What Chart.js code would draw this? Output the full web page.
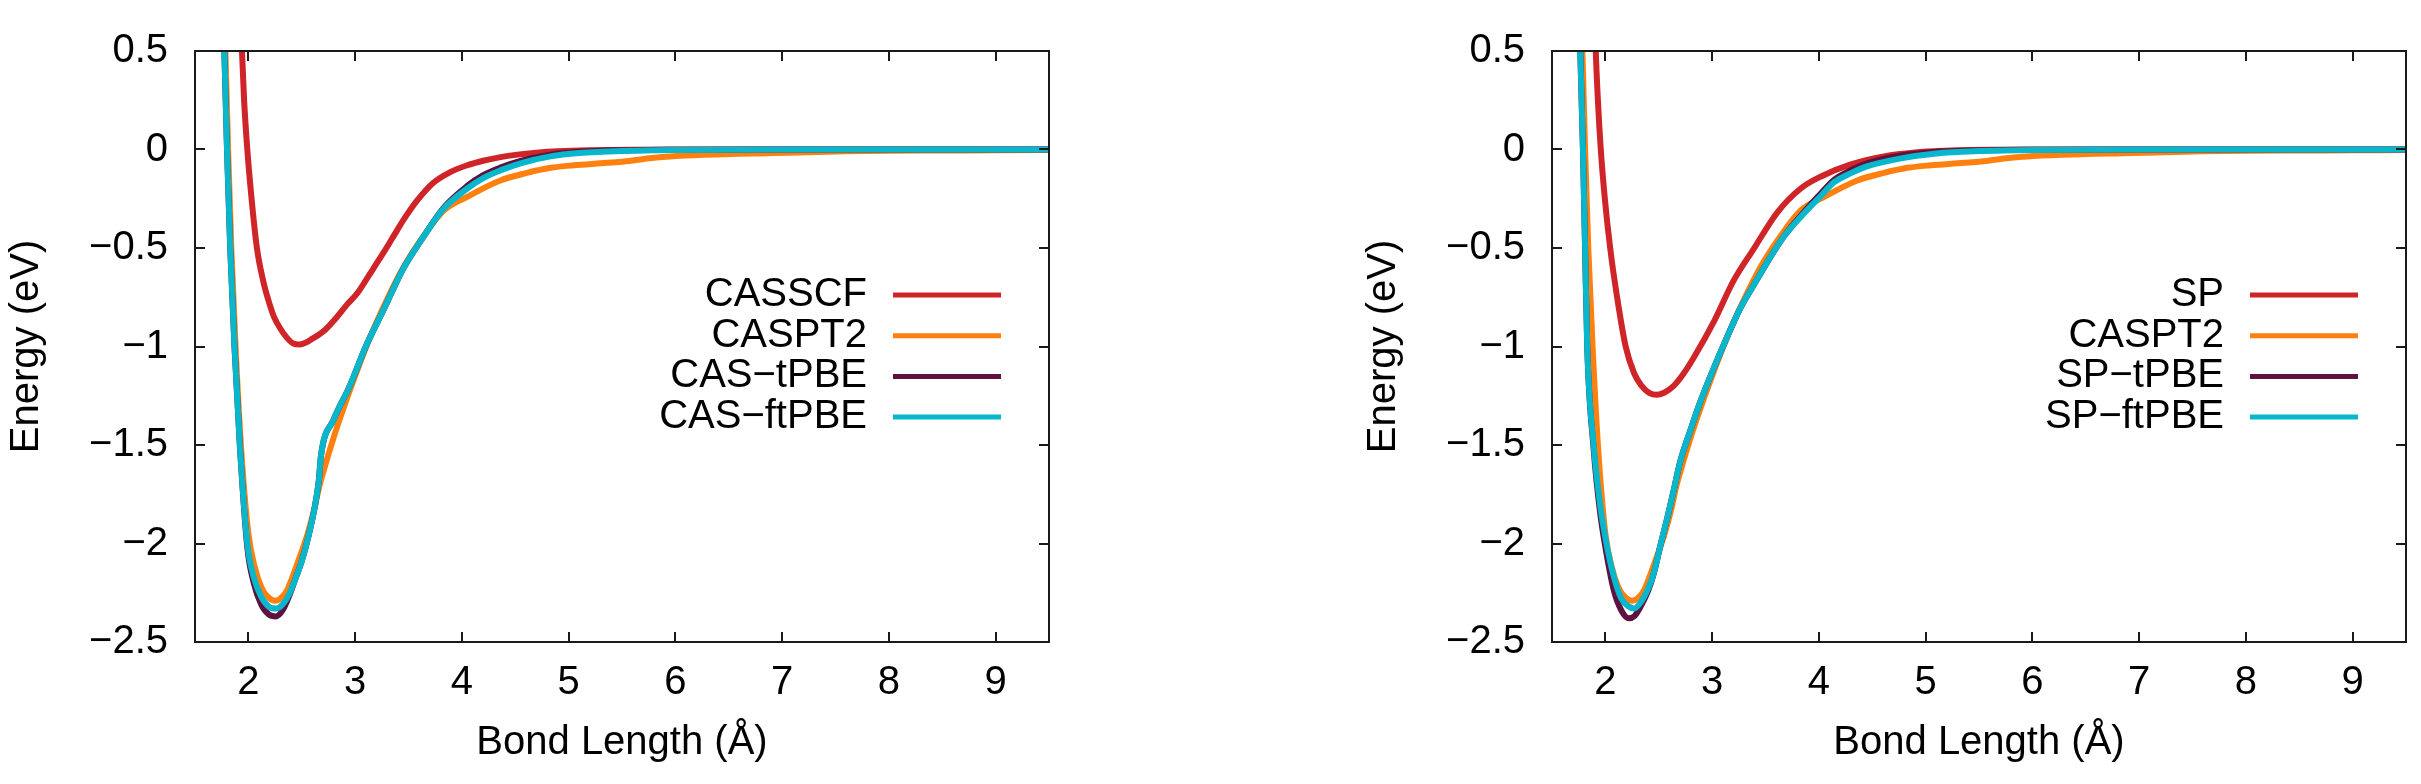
<!DOCTYPE html>
<html>
<head>
<meta charset="utf-8">
<script src="https://cdn.jsdelivr.net/npm/chart.js@4.4.1/dist/chart.umd.min.js"></script>
<style>
  body { margin: 0; background: #fff; }
  .panel { position: absolute; top: 0; }
</style>
</head>
<body>
<canvas id="leftChart" class="panel" style="left:0px" width="1210" height="784"></canvas>
<canvas id="rightChart" class="panel" style="left:1210px" width="1211" height="784"></canvas>
<script>
const FONT = "'Liberation Sans', Arial, Helvetica, sans-serif";

// axis ticks
const xTicks = [2, 3, 4, 5, 6, 7, 8, 9];
const yTicks = [0.5, 0, -0.5, -1, -1.5, -2, -2.5];

// legend names
const leftNames = ['CASSCF', 'CASPT2', 'CAS\u2212tPBE', 'CAS\u2212ftPBE'];
const rightNames = ['SP', 'CASPT2', 'SP\u2212tPBE', 'SP\u2212ftPBE'];

// bond length (Å) / energy (eV)
const casscfR = [1.91, 1.94, 1.96, 1.99, 2.03, 2.08, 2.14, 2.19, 2.24, 2.30, 2.36, 2.42, 2.48, 2.54, 2.60, 2.66, 2.72, 2.83, 2.92, 3.02, 3.14, 3.27, 3.36, 3.45, 3.58, 3.73, 3.89, 4.05, 4.20, 4.35, 4.52, 4.70, 4.90, 5.20, 5.60, 6.00, 7.00, 8.00, 9.00, 9.50];
const casscfE = [1.00, 0.50, 0.25, 0.00, -0.25, -0.50, -0.67, -0.77, -0.85, -0.91, -0.955, -0.985, -0.99, -0.98, -0.96, -0.94, -0.915, -0.85, -0.79, -0.73, -0.63, -0.52, -0.44, -0.36, -0.26, -0.17, -0.115, -0.08, -0.057, -0.04, -0.026, -0.016, -0.009, -0.004, -0.001, 0, 0, 0, 0, 0];

const caspt2R = [1.74, 1.78, 1.81, 1.84, 1.88, 1.93, 2.00, 2.06, 2.12, 2.18, 2.25, 2.30, 2.36, 2.42, 2.48, 2.55, 2.62, 2.66, 2.70, 2.80, 2.90, 3.00, 3.15, 3.30, 3.45, 3.64, 3.83, 4.05, 4.36, 4.60, 4.83, 5.05, 5.30, 5.50, 5.65, 5.80, 5.95, 6.28, 6.94, 7.60, 8.00, 8.50, 9.00, 9.50];
const caspt2E = [1.30, 0.60, 0.00, -0.50, -1.00, -1.50, -1.95, -2.12, -2.22, -2.27, -2.29, -2.28, -2.24, -2.16, -2.07, -1.96, -1.82, -1.72, -1.64, -1.46, -1.30, -1.15, -0.94, -0.76, -0.60, -0.44, -0.31, -0.24, -0.157, -0.12, -0.093, -0.08, -0.07, -0.062, -0.052, -0.042, -0.035, -0.027, -0.018, -0.009, -0.006, -0.005, -0.004, -0.003];

const casPbeR = [1.73, 1.77, 1.80, 1.83, 1.87, 1.92, 1.99, 2.05, 2.12, 2.19, 2.26, 2.32, 2.38, 2.44, 2.50, 2.56, 2.62, 2.66, 2.68, 2.80, 2.95, 3.10, 3.27, 3.45, 3.64, 3.83, 4.05, 4.20, 4.36, 4.55, 4.83, 5.10, 5.50, 6.00, 7.00, 8.00, 9.00, 9.50];
const casTpbeE = [1.30, 0.60, 0.00, -0.50, -1.00, -1.50, -2.02, -2.20, -2.31, -2.36, -2.37, -2.34, -2.27, -2.18, -2.09, -1.97, -1.82, -1.68, -1.555, -1.37, -1.20, -1.00, -0.81, -0.606, -0.443, -0.295, -0.185, -0.13, -0.092, -0.058, -0.026, -0.012, -0.004, -0.001, 0, 0, 0, 0];
const casFtpbeE = [1.30, 0.60, 0.00, -0.50, -1.00, -1.50, -2.00, -2.17, -2.27, -2.32, -2.33, -2.31, -2.26, -2.18, -2.09, -1.97, -1.82, -1.68, -1.555, -1.37, -1.20, -1.00, -0.81, -0.606, -0.443, -0.30, -0.198, -0.145, -0.106, -0.07, -0.035, -0.018, -0.007, -0.002, 0, 0, 0, 0];

const spR = [1.885, 1.91, 1.93, 1.957, 1.995, 2.045, 2.11, 2.19, 2.27, 2.34, 2.41, 2.48, 2.55, 2.64, 2.73, 2.83, 3.02, 3.20, 3.39, 3.61, 3.83, 4.02, 4.30, 4.61, 4.90, 5.30, 6.00, 7.00, 8.00, 9.00, 9.50];
const spE = [1.00, 0.50, 0.25, 0.00, -0.25, -0.50, -0.75, -1.00, -1.137, -1.20, -1.235, -1.245, -1.235, -1.20, -1.14, -1.055, -0.87, -0.667, -0.504, -0.32, -0.198, -0.137, -0.076, -0.035, -0.015, -0.004, 0, 0, 0, 0, 0];

const spPbeR = [1.72, 1.76, 1.79, 1.81, 1.83, 1.89, 1.95, 2.01, 2.08, 2.15, 2.22, 2.27, 2.33, 2.40, 2.45, 2.52, 2.58, 2.64, 2.70, 2.80, 2.89, 3.00, 3.14, 3.26, 3.39, 3.53, 3.67, 3.80, 3.92, 4.02, 4.14, 4.30, 4.45, 4.77, 5.10, 5.50, 6.00, 7.00, 8.00, 9.00, 9.50];
const spTpbeE = [1.30, 0.60, 0.00, -0.50, -1.00, -1.52, -1.84, -2.05, -2.24, -2.34, -2.38, -2.37, -2.32, -2.24, -2.16, -2.00, -1.87, -1.73, -1.586, -1.42, -1.28, -1.13, -0.953, -0.81, -0.688, -0.56, -0.443, -0.355, -0.28, -0.222, -0.155, -0.105, -0.07, -0.03, -0.012, -0.004, -0.001, 0, 0, 0, 0];
const spFtpbeE = [1.30, 0.60, 0.00, -0.50, -1.00, -1.50, -1.80, -2.00, -2.17, -2.28, -2.32, -2.33, -2.30, -2.23, -2.157, -2.00, -1.87, -1.73, -1.586, -1.42, -1.28, -1.13, -0.953, -0.81, -0.688, -0.56, -0.443, -0.36, -0.29, -0.235, -0.167, -0.12, -0.086, -0.045, -0.02, -0.008, -0.002, 0, 0, 0, 0];

const lineColors = ['#cf2528', '#ff800e', '#5e1240', '#08b7cc'];

function pts(xs, ys) {
    return xs.map((x, i) => ({ x: x, y: ys[i] }));
}

function minus(v) {
    return String(v).replace('-', '\u2212');
}

// gnuplot style box with inward ticks, and the key (text then line sample)
const frameAndKey = {
    id: 'frameAndKey',
    afterDraw(chart) {
        const { ctx, chartArea: a, scales } = chart;
        ctx.save();
        ctx.strokeStyle = '#1a1a1a';
        ctx.lineWidth = 2;
        ctx.beginPath();
        xTicks.forEach(v => {
            const px = Math.round(scales.x.getPixelForValue(v));
            ctx.moveTo(px, a.bottom); ctx.lineTo(px, a.bottom - 10);
            ctx.moveTo(px, a.top); ctx.lineTo(px, a.top + 10);
        });
        yTicks.forEach(v => {
            const py = Math.round(scales.y.getPixelForValue(v));
            ctx.moveTo(a.left, py); ctx.lineTo(a.left + 10, py);
            ctx.moveTo(a.right, py); ctx.lineTo(a.right - 10, py);
        });
        ctx.stroke();
        ctx.strokeRect(a.left, a.top, a.right - a.left, a.bottom - a.top);

        ctx.font = '40px ' + FONT;
        ctx.textAlign = 'right';
        ctx.textBaseline = 'middle';
        ctx.fillStyle = '#000';
        ctx.lineWidth = 5;
        chart.data.datasets.forEach((ds, i) => {
            const y = a.top + 244 + i * 40.7;
            ctx.fillText(ds.label, a.left + 672, y);
            ctx.strokeStyle = ds.borderColor;
            ctx.beginPath();
            ctx.moveTo(a.left + 698, y);
            ctx.lineTo(a.left + 806, y);
            ctx.stroke();
        });
        ctx.restore();
    }
};

function makeChart(id, names, series, padLeft, padRight) {
    const datasets = series.map((s, i) => ({
        label: names[i],
        data: s,
        borderColor: lineColors[i],
        backgroundColor: lineColors[i],
        borderWidth: 6,
        pointRadius: 0,
        fill: false,
        cubicInterpolationMode: 'monotone',
        borderJoinStyle: 'round',
        clip: 0,
        order: 4 - i
    }));

    return new Chart(document.getElementById(id), {
        type: 'line',
        data: { datasets: datasets },
        options: {
            responsive: false,
            animation: false,
            layout: { padding: { left: padLeft, right: padRight, top: 32, bottom: 0 } },
            plugins: {
                legend: { display: false },
                tooltip: { enabled: false }
            },
            scales: {
                x: {
                    type: 'linear',
                    min: 1.5,
                    max: 9.5,
                    afterBuildTicks: axis => { axis.ticks = xTicks.map(v => ({ value: v })); },
                    afterFit: axis => { axis.height = 142; },
                    grid: { display: false, drawTicks: false },
                    border: { display: false },
                    ticks: {
                        color: '#000',
                        padding: 17,
                        maxRotation: 0,
                        autoSkip: false,
                        font: { family: FONT, size: 40 },
                        callback: v => minus(v)
                    },
                    title: {
                        display: true,
                        text: 'Bond Length (\u00C5)',
                        color: '#000',
                        font: { family: FONT, size: 40 },
                        padding: { top: 0, bottom: 17 }
                    }
                },
                y: {
                    type: 'linear',
                    min: -2.5,
                    max: 0.5,
                    afterBuildTicks: axis => { axis.ticks = yTicks.map(v => ({ value: v })); },
                    afterFit: axis => { axis.width = 195; },
                    grid: { display: false, drawTicks: false },
                    border: { display: false },
                    ticks: {
                        color: '#000',
                        padding: 27,
                        autoSkip: false,
                        font: { family: FONT, size: 40 },
                        callback: v => minus(v)
                    },
                    title: {
                        display: true,
                        text: 'Energy (eV)',
                        color: '#000',
                        font: { family: FONT, size: 40 },
                        padding: { top: 3, bottom: 0 }
                    }
                }
            }
        },
        plugins: [frameAndKey]
    });
}

makeChart('leftChart', leftNames, [
    pts(casscfR, casscfE),
    pts(caspt2R, caspt2E),
    pts(casPbeR, casTpbeE),
    pts(casPbeR, casFtpbeE)
], 0, 161);

makeChart('rightChart', rightNames, [
    pts(spR, spE),
    pts(caspt2R, caspt2E),
    pts(spPbeR, spTpbeE),
    pts(spPbeR, spFtpbeE)
], 147, 15);
</script>
</body>
</html>
